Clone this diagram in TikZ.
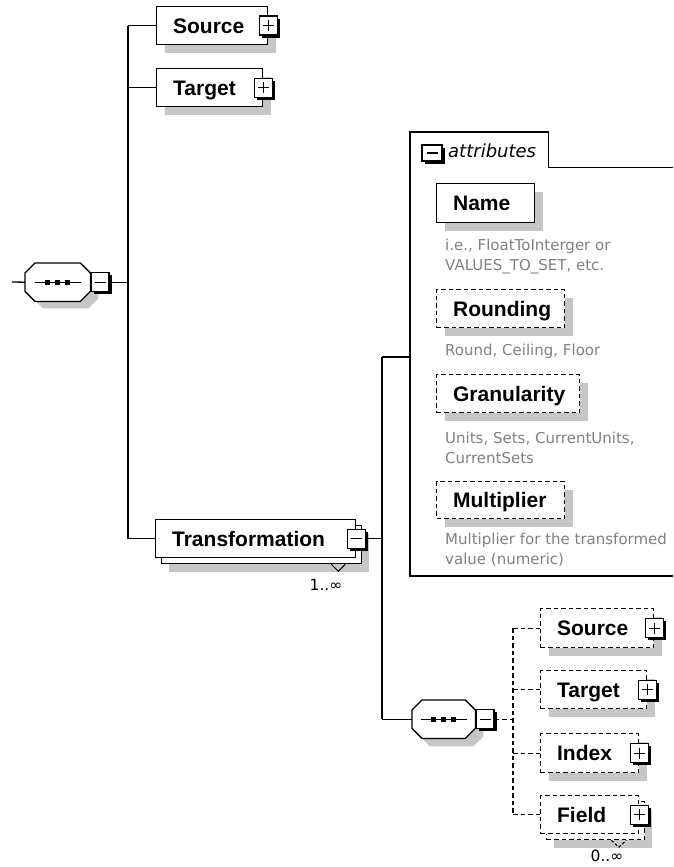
\documentclass[tikz,border=0pt]{standalone}
\usepackage{fontspec}
\setmainfont{DejaVu Sans}
\newfontfamily\boxfont{Liberation Sans}
\usetikzlibrary{calc,shadows}

% octagon outline of a sequence compositor, #1 = node, #2 = offset
\newcommand\octpath[2]{($(#1.north west)+(10,0)+#2$) -- ($(#1.north east)+(-10,0)+#2$) -- ($(#1.north east)+(0,10)+#2$) -- ($(#1.south east)+(0,-10)+#2$) -- ($(#1.south east)+(-10,0)+#2$) -- ($(#1.south west)+(10,0)+#2$) -- ($(#1.south west)+(0,-10)+#2$) -- ($(#1.north west)+(0,10)+#2$) -- cycle}

\tikzset{
  x=1pt, y=-1pt,
  conn/.style={line width=1.3pt},
  optconn/.style={conn, dash pattern=on 4.5pt off 3pt},
  elem/.style={draw, fill=white, line width=1.3pt, rectangle, anchor=north west,
    inner xsep=16.5pt, inner ysep=0pt, minimum height=38pt, text height=15pt,
    text depth=0pt, align=left, font=\boxfont\bfseries\fontsize{21}{24}\selectfont},
  optelem/.style={elem, dash pattern=on 4.5pt off 3pt},
  shd/.style={general shadow={fill=gray!45, shadow xshift=8pt, shadow yshift=-8pt}},
  stack/.style={general shadow={fill=gray!45, shadow xshift=13pt, shadow yshift=-14pt},
    copy shadow={shadow xshift=6pt, shadow yshift=-6pt, fill=white, draw=black, line width=1.3pt}},
  optstack/.style={general shadow={fill=gray!45, shadow xshift=13pt, shadow yshift=-14pt},
    copy shadow={shadow xshift=6pt, shadow yshift=-6pt, fill=white, draw=black, line width=1.3pt, dash pattern=on 4.5pt off 3pt}},
  pm/.style={draw, solid, fill=white, line width=1.3pt, minimum width=18pt, minimum height=19pt,
    inner sep=0pt, general shadow={fill=black, shadow xshift=2.6pt, shadow yshift=-2.6pt}},
  plusbox/.style={pm, path picture={\draw[line width=1.3pt]
    ([xshift=-5.5pt]path picture bounding box.center) -- ([xshift=5.5pt]path picture bounding box.center)
    ([yshift=-5.5pt]path picture bounding box.center) -- ([yshift=5.5pt]path picture bounding box.center);}},
  minusbox/.style={pm, path picture={\draw[line width=1.3pt]
    ([xshift=-5.5pt]path picture bounding box.center) -- ([xshift=5.5pt]path picture bounding box.center);}},
  note/.style={anchor=base west, inner sep=0pt, align=left, text=black!50,
    font=\fontsize{15}{19.5}\selectfont},
  seqbox/.style={minimum width=65pt, minimum height=38pt, inner sep=0pt, anchor=north west},
  mult/.style={inner sep=0pt, font=\fontsize{15.5}{17}\selectfont},
}

\begin{document}
\begin{tikzpicture}
\useasboundingbox (0,0) rectangle (673,867);

% ---------- root sequence ----------
\node[seqbox] (seqA) at (25,263) {};
\fill[gray!45] \octpath{seqA}{(8,7)};
\draw[line width=1.3pt, fill=white] \octpath{seqA}{(0,0)};
\draw[line width=1.3pt] ($(seqA.west)+(10,0)$) -- ($(seqA.east)+(-9,0)$);
\foreach \d in {-10,0,10}
  \fill ($(seqA.center)+(\d,0)$) +(-2.4,-2.4) rectangle +(2.4,2.4);
\node[minusbox, anchor=west] (seqAx) at (seqA.east) {};
\coordinate (lstub) at (12,282);

% ---------- top level elements ----------
\node[elem, shd, text width=78pt] (src) at (156,6) {Source};
\node[plusbox] (srcx) at (src.east) {};
\node[elem, shd, text width=73pt] (tgt) at (156,68) {Target};
\node[plusbox] (tgtx) at (tgt.east) {};
\node[elem, stack, text width=167pt] (trf) at (155,519) {Transformation};
\node[minusbox] (trfx) at (trf.east) {};
\draw[line width=1pt] ($(trf.south east)+(-25,6)$) -- ++(7,7) -- ++(7,-7);
\node[mult] (trfm) at (326,585) {1..∞};

% ---------- attributes container ----------
\node[anchor=north west, minimum width=138pt, minimum height=35pt, inner sep=0pt] (tab) at (410,132) {};
\coordinate (abot) at (410,576);
\coordinate (aright) at (673,0);
\coordinate (attrin) at (410,357);
\draw[line width=1.6pt] (abot -| aright) -- (abot) -- (tab.north west) -- (tab.north east)
  -- (tab.south east) -- (tab.south east -| aright);
\node[minusbox, minimum width=20pt, minimum height=16pt] (tabx) at (432,153) {};
\node[anchor=base west, inner sep=0pt, font=\itshape\fontsize{18}{20}\selectfont] (tabtxt) at (448,157) {attributes};

\node[elem, shd, text width=65pt, minimum height=39pt] (nm) at (436,183) {Name};
\node[note] (nmd) at (445,270) {i.e., FloatToInterger or\\VALUES\_TO\_SET, etc.};
\node[optelem, shd, text width=95pt] (rnd) at (436,289) {Rounding};
\node[note] (rndd) at (445,355) {Round, Ceiling, Floor};
\node[optelem, shd, text width=110pt] (gran) at (436,374) {Granularity};
\node[note] (grand) at (445,463) {Units, Sets, CurrentUnits,\\CurrentSets};
\node[optelem, shd, text width=95pt, minimum height=37pt] (mul) at (436,481) {Multiplier};
\node[note] (muld) at (445,564) {Multiplier for the transformed\\value (numeric)};

% ---------- inner sequence ----------
\node[seqbox, minimum width=63pt] (seqB) at (412,700) {};
\fill[gray!45] \octpath{seqB}{(8,8)};
\draw[line width=1.3pt, fill=white] \octpath{seqB}{(0,0)};
\draw[line width=1.3pt] ($(seqB.west)+(9,0)$) -- ($(seqB.east)+(-8,0)$);
\foreach \d in {-10,0,10}
  \fill ($(seqB.center)+(\d,0)$) +(-2.4,-2.4) rectangle +(2.4,2.4);
\node[minusbox, anchor=west] (seqBx) at (seqB.east) {};

\node[optelem, shd, text width=80pt, minimum height=39pt] (src2) at (540,608) {Source};
\node[plusbox] (src2x) at (src2.east) {};
\node[optelem, shd, text width=73pt] (tgt2) at (540,670) {Target};
\node[plusbox] (tgt2x) at (tgt2.east) {};
\node[optelem, shd, text width=65pt, minimum height=39pt] (idx) at (540,733) {Index};
\node[plusbox] (idxx) at (idx.east) {};
\node[optelem, optstack, text width=65pt] (fld) at (540,795) {Field};
\node[plusbox] (fldx) at (fld.east) {};
\draw[line width=1pt, dash pattern=on 3pt off 2pt] ($(fld.south east)+(-28,6)$) -- ++(7.5,7) -- ++(7.5,-7);
\node[mult] (fldm) at (607,856) {0..∞};

% ---------- connectors ----------
\coordinate (busA) at (128,0);
\coordinate (busT) at (382,0);
\coordinate (busB) at (513,0);

\draw[conn] (lstub) -- (seqA.west);
\draw[conn] (seqAx.east) -- (seqAx.east -| busA);
\draw[conn] (busA |- src.west) -- (busA |- trf.west);
\draw[conn] (busA |- src.west) -- (src.west);
\draw[conn] (busA |- tgt.west) -- (tgt.west);
\draw[conn] (busA |- trf.west) -- (trf.west);

\draw[conn] (trfx.east) -- (trfx.east -| busT);
\draw[conn] (busT |- attrin) -- (busT |- seqB.west);
\draw[conn] (busT |- attrin) -- (attrin);
\draw[conn] (busT |- seqB.west) -- (seqB.west);

\draw[optconn] (seqBx.east) -- (seqBx.east -| busB);
\draw[optconn] (busB |- src2.west) -- (busB |- fld.west);
\draw[optconn] (busB |- src2.west) -- (src2.west);
\draw[optconn] (busB |- tgt2.west) -- (tgt2.west);
\draw[optconn] (busB |- idx.west) -- (idx.west);
\draw[optconn] (busB |- fld.west) -- (fld.west);
\end{tikzpicture}
\end{document}
